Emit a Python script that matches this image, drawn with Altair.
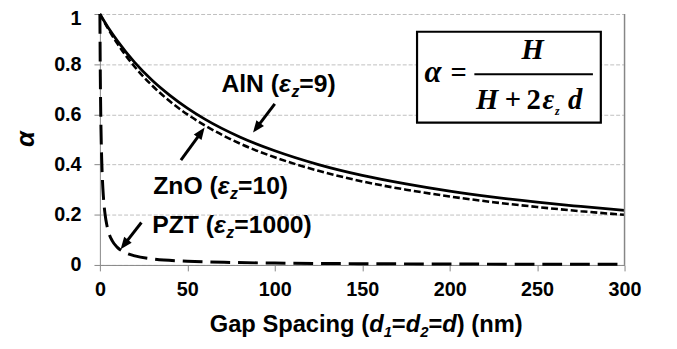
import math
import altair as alt
import pandas as pd

# ---------------- data ----------------
d_film = [0, 5, 10, 20, 30, 40, 50, 60, 80, 100, 125, 150, 175, 200, 225, 250, 275, 300]
alpha_aln = [1, 0.943, 0.893, 0.806, 0.735, 0.676, 0.625, 0.581, 0.510, 0.455,
             0.400, 0.357, 0.323, 0.294, 0.270, 0.250, 0.233, 0.217]
alpha_zno = [1, 0.938, 0.882, 0.789, 0.714, 0.652, 0.600, 0.556, 0.484, 0.429,
             0.375, 0.333, 0.300, 0.273, 0.250, 0.231, 0.214, 0.200]
d_pzt = [0, 0.25, 0.5, 1, 1.5, 2, 3, 4, 5, 7, 10, 15, 20, 30, 50, 75, 100, 150, 200, 250, 300]
alpha_pzt = [1, 0.75, 0.6, 0.429, 0.333, 0.273, 0.2, 0.158, 0.130, 0.097, 0.070, 0.048,
             0.036, 0.024, 0.015, 0.010, 0.0074, 0.005, 0.0037, 0.003, 0.0025]
x_ticks = [0, 50, 100, 150, 200, 250, 300]
y_ticks = [0, 0.2, 0.4, 0.6, 0.8, 1]

# ---------------- styling ----------------
SANS = "Liberation Sans"
SERIF = "Liberation Serif"
GRAY = "#868686"
W, H = 531, 254

# Arial-bold advance widths (em)
ADV = {' ': .278, '(': .333, ')': .333, '=': .584, 'A': .722, 'G': .778, 'N': .722,
       'O': .778, 'P': .667, 'S': .667, 'T': .611, 'Z': .611, 'a': .556, 'c': .556,
       'd': .611, 'g': .611, 'i': .278, 'l': .278, 'm': .889, 'n': .611, 'p': .611,
       'z': .5, 'ε': .5}
for c in "0123456789":
    ADV[c] = .556

ONE = pd.DataFrame({"k": [0]})


def txt(s, x, y, size, font=SANS, italic=False, align="left", baseline="alphabetic"):
    return alt.Chart(ONE).mark_text(
        text=s, font=font, fontSize=size, fontWeight="bold",
        fontStyle="italic" if italic else "normal",
        align=align, baseline=baseline, color="black",
    ).encode(x=alt.value(x), y=alt.value(y))


def width_of(pieces, size, subsize):
    return sum(sum(ADV.get(c, .556) for c in s) * (subsize if sub else size)
               for s, it, sub in pieces)


def chain(pieces, x0, base, size, subsize, drop):
    out = []
    x = x0
    for s, it, sub in pieces:
        fs = subsize if sub else size
        out.append(txt(s, x, base + (drop if sub else 0), fs, italic=it))
        x += sum(ADV.get(c, .556) for c in s) * fs
    return out


def arrow(x1, y1, x2, y2, head=12):
    dx, dy = x2 - x1, y2 - y1
    L = math.hypot(dx, dy)
    ux, uy = dx / L, dy / L
    line = alt.Chart(ONE).mark_rule(strokeWidth=3, color="black").encode(
        x=alt.value(x1), y=alt.value(y1),
        x2=alt.value(x2 - ux * (head - 2)), y2=alt.value(y2 - uy * (head - 2)))
    ang = math.degrees(math.atan2(dx, -dy)) % 360
    tip = alt.Chart(ONE).mark_point(
        shape="M0,-1L0.8,1L-0.8,1Z", filled=True, color="black", opacity=1,
        strokeWidth=0, size=head * head, angle=ang,
    ).encode(x=alt.value(x2 - ux * head / 2), y=alt.value(y2 - uy * head / 2))
    return [line, tip]


# ---------------- curves ----------------
X = alt.X("d:Q", scale=alt.Scale(domain=[0, 300], nice=False, zero=False),
          axis=alt.Axis(values=x_ticks, title=None, grid=False, labelFont=SANS,
                        labelFontSize=20, labelFontWeight="bold", labelColor="black",
                        tickColor=GRAY, domainColor=GRAY, tickSize=6, labelPadding=9,
                        labelFlush=False))
Y = alt.Y("alpha:Q", scale=alt.Scale(domain=[0, 1], nice=False),
          axis=alt.Axis(values=y_ticks, format="~g", title="α", titleFont=SANS,
                        titleFontSize=26, titleFontStyle="italic", titleFontWeight="bold",
                        titleColor="black", titleX=-75, titleY=126, titleAngle=270,
                        titleAlign="center", titleBaseline="middle",
                        grid=True, gridColor="#bfbfbf", gridDash=[4, 2], gridWidth=1,
                        labelFont=SANS, labelFontSize=20, labelFontWeight="bold",
                        labelColor="black", tickColor=GRAY, domainColor=GRAY,
                        tickSize=6, labelPadding=13,
                        labelOffset=alt.condition("datum.value == 1", alt.value(5), alt.value(0))))

pzt = alt.Chart(pd.DataFrame({"d": d_pzt, "alpha": alpha_pzt})).mark_line(
    color="black", strokeWidth=3, strokeDash=[20, 8], interpolate="monotone"
).encode(x=X, y=Y)
zno = alt.Chart(pd.DataFrame({"d": d_film, "alpha": alpha_zno})).mark_line(
    color="black", strokeWidth=2.6, strokeDash=[7, 3], interpolate="monotone"
).encode(x=X, y=Y)
aln = alt.Chart(pd.DataFrame({"d": d_film, "alpha": alpha_aln})).mark_line(
    color="black", strokeWidth=2.8, interpolate="monotone"
).encode(x=X, y=Y)

frame = alt.Chart(ONE).mark_rule(color=GRAY, strokeWidth=1.5).encode(
    x=alt.value(W), y=alt.value(0), y2=alt.value(H))

layers = [pzt, zno, aln, frame]

# ---------------- equation box ----------------
layers.append(alt.Chart(ONE).mark_rect(fill="white", stroke="black", strokeWidth=2.2).encode(
    x=alt.value(321), x2=alt.value(507), y=alt.value(18), y2=alt.value(110)))
layers.append(alt.Chart(ONE).mark_rule(color="black", strokeWidth=2).encode(
    x=alt.value(379), x2=alt.value(499), y=alt.value(61)))
EQ = 29
layers += [
    txt("α", 337, 69, 31, SERIF, True, "center"),
    txt("=", 363, 69, EQ, SERIF, False, "center"),
    txt("H", 438, 46, EQ, SERIF, True, "center"),
    txt("H", 392, 96, EQ, SERIF, True, "center"),
    txt("+", 418, 96, EQ, SERIF, False, "center"),
    txt("2", 439, 96, EQ, SERIF, False, "center"),
    txt("ε", 454, 96, EQ, SERIF, True, "center"),
    txt("z", 463, 102, 12, SERIF, True, "center"),
    txt("d", 481, 96, EQ, SERIF, True, "center"),
]

# ---------------- annotations ----------------
A, SUB, DROP = 25, 16, 5
layers += chain([("AlN (", False, False), ("ε", True, False), ("z", True, True), ("=9)", False, False)],
                123, 79, A, SUB, DROP)
layers += chain([("ZnO (", False, False), ("ε", True, False), ("z", True, True), ("=10)", False, False)],
                54, 182, A, SUB, DROP)
layers += chain([("PZT (", False, False), ("ε", True, False), ("z", True, True), ("=1000)", False, False)],
                53, 222, A, SUB, DROP)
layers += arrow(177, 91, 155, 120)
layers += arrow(82, 148, 106, 115)
layers += arrow(42, 211, 21, 238)

# ---------------- x-axis title with italics/subscripts ----------------
title_pieces = [("Gap Spacing (", False, False), ("d", True, False), ("1", True, True),
                ("=", False, False), ("d", True, False), ("2", True, True),
                ("=", False, False), ("d", True, False), (") (nm)", False, False)]
T, TS = 24, 15
tw = width_of(title_pieces, T, TS)
layers += chain(title_pieces, 269.5 - tw / 2, 322, T, TS, 5)

chart = alt.layer(*layers).properties(
    width=W, height=H,
    autosize=alt.AutoSizeParams(type="none"),
    padding={"left": 93, "top": 4, "right": 45, "bottom": 83},
).configure_view(stroke=None)

chart.save("out.html", embed_options={"renderer": "svg", "actions": False})
